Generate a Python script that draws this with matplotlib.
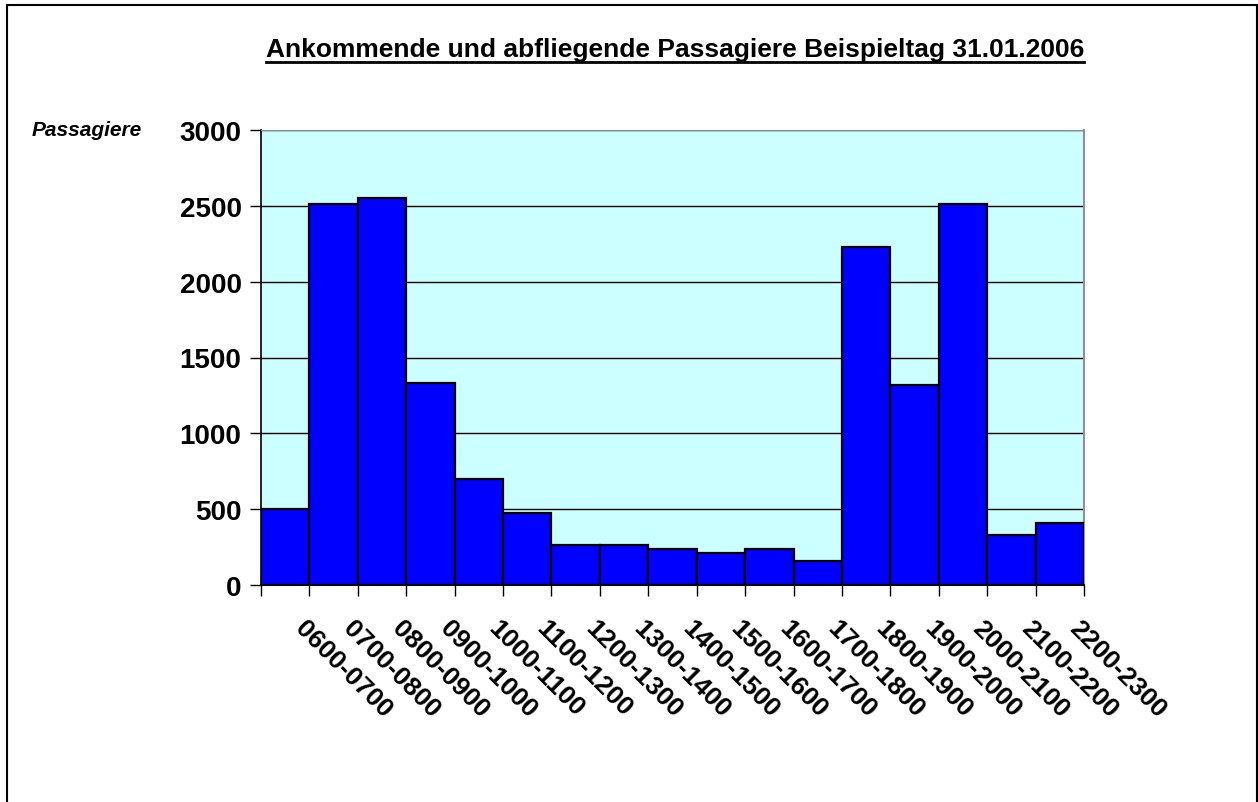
import matplotlib
matplotlib.use('Agg')
import matplotlib.pyplot as plt
import matplotlib.transforms as mtransforms
from matplotlib.patches import Rectangle
from matplotlib.lines import Line2D
import numpy as np

plt.rcParams['font.family'] = ['Liberation Sans', 'DejaVu Sans']

slots = ['0600-0700', '0700-0800', '0800-0900', '0900-1000', '1000-1100',
         '1100-1200', '1200-1300', '1300-1400', '1400-1500', '1500-1600',
         '1600-1700', '1700-1800', '1800-1900', '1900-2000', '2000-2100',
         '2100-2200', '2200-2300']
passagiere = [500, 2510, 2550, 1335, 700, 475, 262, 262, 236, 209,
              236, 156, 2230, 1320, 2510, 328, 407]

fig = plt.figure(figsize=(12.58, 8.03), dpi=100)
ax = fig.add_axes([261 / 1258, 1 - 586 / 803, 823 / 1258, 455 / 803])
ax.set_facecolor('#ccffff')

x = np.arange(len(slots))
ax.bar(x, passagiere, width=1.0, color='#0000ff', edgecolor='black',
       linewidth=1.6, zorder=3)

ax.set_xlim(-0.5, len(slots) - 0.5)
ax.set_ylim(0, 3000)
ax.set_yticks(np.arange(0, 3001, 500))
ax.yaxis.grid(True, color='black', linewidth=1.0, zorder=0)
ax.set_axisbelow(True)

for lbl in ax.get_yticklabels():
    lbl.set_fontsize(20)
    lbl.set_fontweight('bold')
ax.tick_params(axis='y', length=8, width=1, pad=6)

# tick marks at bar boundaries, labels at bar centres
ax.set_xticks(np.arange(-0.5, len(slots)), minor=True)
ax.tick_params(axis='x', which='minor', length=8, width=1)
ax.set_xticks(x)
ax.set_xticklabels(slots, fontsize=19, fontweight='bold', rotation=-45,
                   ha='left', va='top', rotation_mode='anchor')
ax.tick_params(axis='x', which='major', length=0, pad=0)
offset = mtransforms.ScaledTranslation(0.22, -0.31, fig.dpi_scale_trans)
for lbl in ax.get_xticklabels():
    lbl.set_transform(lbl.get_transform() + offset)

ax.spines['left'].set_linewidth(1.2)
ax.spines['bottom'].set_linewidth(1.5)
ax.spines['top'].set_color('#909090')
ax.spines['right'].set_color('#909090')
ax.spines['right'].set_linewidth(1.5)

fig.text(32 / 1258, 1 - 131 / 803, 'Passagiere', fontsize=15,
         fontweight='bold', fontstyle='italic', va='center', ha='left')

title = fig.text(675 / 1258, 1 - 57 / 803,
                 'Ankommende und abfliegende Passagiere Beispieltag 31.01.2006',
                 fontsize=19, fontweight='bold', ha='center', va='baseline')

fig.canvas.draw()
bb = title.get_window_extent()
fig.add_artist(Line2D([bb.x0 / 1258, bb.x1 / 1258],
                      [1 - 63 / 803, 1 - 63 / 803],
                      transform=fig.transFigure, color='black', linewidth=2))

# outer frame
fig.add_artist(Rectangle((7 / 1258, -0.01), 1250 / 1258, 1.01 - 6 / 803,
                         transform=fig.transFigure, fill=False,
                         edgecolor='black', linewidth=1.5))

fig.savefig('out.png', dpi=100)
